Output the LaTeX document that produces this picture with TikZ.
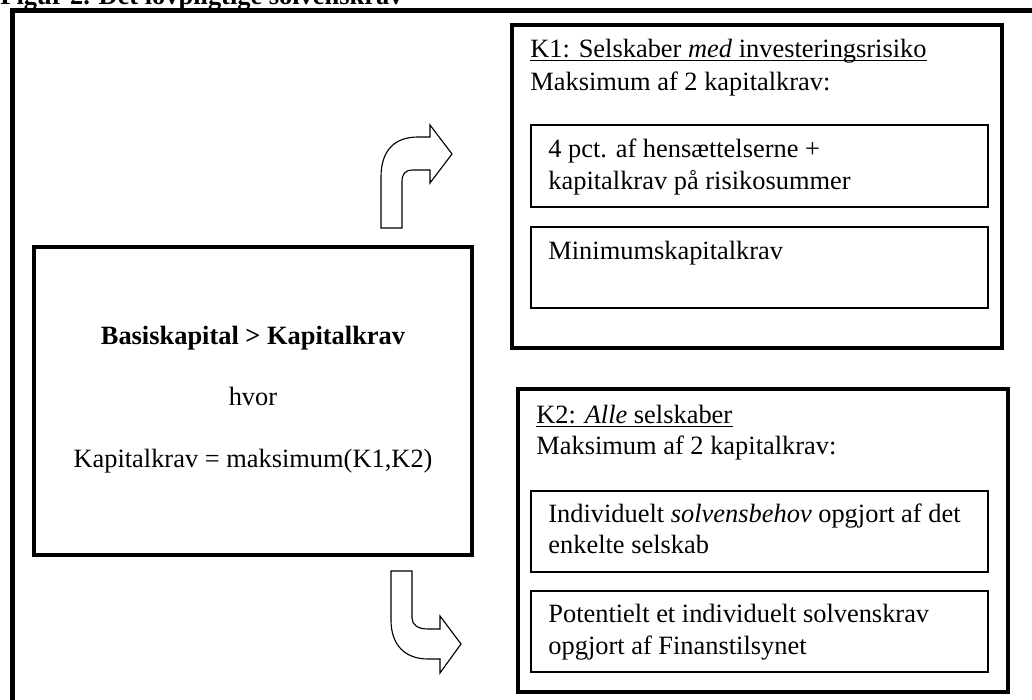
\documentclass[tikz,border=0pt]{standalone}
\usepackage{fontspec}
\setmainfont{Liberation Serif}
\usepackage{tikz}
\usetikzlibrary{fit}

\begin{document}
\begin{tikzpicture}[x=0.53pt, y=-0.53pt, line join=miter,
    font=\fontsize{14}{16}\selectfont,
    frame/.style={line width=2.6pt},
    bigbox/.style={draw, line width=1.6pt, inner sep=0pt},
    subbox/.style={draw, line width=0.7pt, inner sep=0pt},
    txt/.style={inner sep=0pt, anchor=base west},
    ctxt/.style={inner sep=0pt, anchor=base},
    bentarrow/.style={draw, line width=0.6pt, fill=white}]
    \useasboundingbox (0,0) rectangle (1032,700);

    % ── title, cut by the page edge ────────────────────────────────────────
    \node[txt, font=\fontsize{14}{16}\selectfont\bfseries] (title) at (0,5)
      {Figur 2. Det lovpligtige solvenskrav};
    \draw[frame] (12.5,720) -- (12.5,10.8) -- (1045,10.8);

    % ── left box: the requirement ──────────────────────────────────────────
    \node[bigbox, fit={(34,247) (472,555)}] (base) {};
    \node[ctxt, font=\fontsize{14}{16}\selectfont\bfseries] (req) at (253,345)
      {Basiskapital > Kapitalkrav};
    \node[ctxt] (hvor) at (253,406) {hvor};
    \node[ctxt] (maks) at (253,468) {Kapitalkrav = maksimum(K1,K2)};

    % ── K1: companies with investment risk ─────────────────────────────────
    \node[bigbox, fit={(512,25) (1002,348)}] (kone) {};
    \node[txt] (konehead) at (530,58) {K1: Selskaber \textit{med} investeringsrisiko};
    \draw[line width=0.6pt] ([yshift=-1.4pt]konehead.base west) -- ([yshift=-1.4pt]konehead.base east);
    \node[txt] (konesub) at (530,91) {Maksimum af 2 kapitalkrav:};
    \node[subbox, fit={(531,125) (988,207)}] (hens) {};
    \node[txt] (hensa) at (548,158) {4 pct. af hensættelserne +};
    \node[txt] (hensb) at (548,190) {kapitalkrav på risikosummer};
    \node[subbox, fit={(531,227) (988,308)}] (minkap) {};
    \node[txt] (minkapt) at (548,260) {Minimumskapitalkrav};

    % ── K2: all companies ──────────────────────────────────────────────────
    \node[bigbox, fit={(518,389) (1008,692)}] (ktwo) {};
    \node[txt] (ktwohead) at (536,424) {K2: \textit{Alle} selskaber};
    \draw[line width=0.6pt] ([yshift=-1.4pt]ktwohead.base west) -- ([yshift=-1.4pt]ktwohead.base east);
    \node[txt] (ktwosub) at (536,455) {Maksimum af 2 kapitalkrav:};
    \node[subbox, fit={(531,491) (988,572)}] (indiv) {};
    \node[txt] (indiva) at (548,523) {Individuelt \textit{solvensbehov} opgjort af det};
    \node[txt] (indivb) at (548,554) {enkelte selskab};
    \node[subbox, fit={(531,591) (988,672)}] (pot) {};
    \node[txt] (pota) at (548,623) {Potentielt et individuelt solvenskrav};
    \node[txt] (potb) at (548,655) {opgjort af Finanstilsynet};

    % ── bent block arrows ──────────────────────────────────────────────────
    \draw[bentarrow] (381,228) -- (381,177)
      .. controls (381,150) and (395,137) .. (418,137)
      -- (430,137) -- (430,125) -- (452,154) -- (430,183) -- (430,170)
      -- (413,170) .. controls (405,170) and (402,174) .. (402,182)
      -- (402,228) -- cycle;
    \draw[bentarrow] (391,571) -- (412,571) -- (412,618)
      .. controls (412,625) and (418,629) .. (428,629)
      -- (440,629) -- (440,616) -- (461,644) -- (440,673) -- (440,659)
      -- (428,659) .. controls (405,659) and (391,645) .. (391,620) -- cycle;
\end{tikzpicture}
\end{document}
